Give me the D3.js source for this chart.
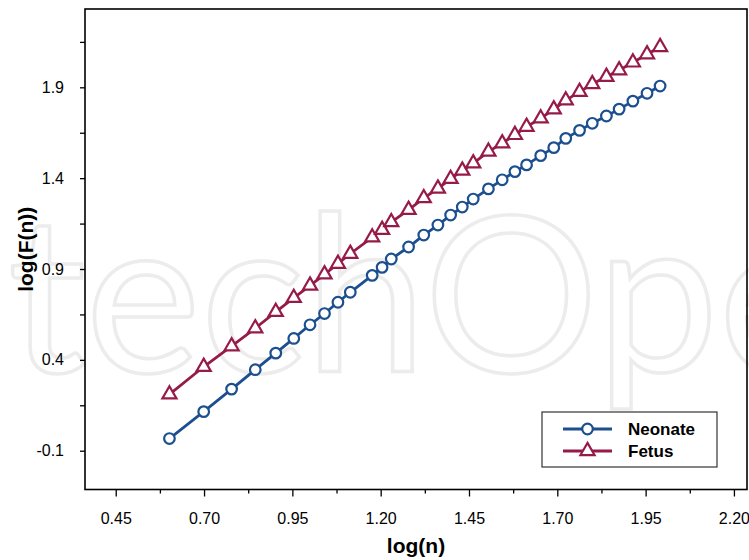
<!DOCTYPE html>
<html>
<head>
<meta charset="utf-8">
<script src="https://cdn.jsdelivr.net/npm/d3@7"></script>
<style>
  body { margin: 0; background: #fff; }
  svg { display: block; }
</style>
</head>
<body>
<div id="chart"></div>
<script>
"use strict";

// log(n) positions
const logN = [0.602, 0.699, 0.778, 0.845, 0.903, 0.954, 1.000, 1.041, 1.079, 1.114,
              1.176, 1.204, 1.230, 1.279, 1.322, 1.362, 1.398, 1.431, 1.462, 1.505,
              1.544, 1.580, 1.613, 1.653, 1.690, 1.724, 1.763, 1.799, 1.839, 1.875,
              1.914, 1.954, 1.991];

const neonate = [-0.033, 0.115, 0.239, 0.346, 0.437, 0.518, 0.593, 0.655, 0.717, 0.772,
                 0.865, 0.909, 0.955, 1.021, 1.087, 1.142, 1.197, 1.241, 1.285, 1.341,
                 1.391, 1.436, 1.473, 1.524, 1.568, 1.619, 1.663, 1.702, 1.742, 1.780,
                 1.824, 1.867, 1.907];

const fetus = [0.210, 0.362, 0.475, 0.574, 0.664, 0.741, 0.809, 0.871, 0.929, 0.984,
               1.074, 1.116, 1.158, 1.226, 1.290, 1.343, 1.396, 1.442, 1.482, 1.546,
               1.592, 1.638, 1.683, 1.729, 1.779, 1.828, 1.875, 1.918, 1.958, 1.994,
               2.037, 2.082, 2.122];

const xTicks = [0.45, 0.70, 0.95, 1.20, 1.45, 1.70, 1.95, 2.20];
const xMinor = [0.575, 0.825, 1.075, 1.325, 1.575, 1.825, 2.075];
const yTicks = [-0.1, 0.4, 0.9, 1.4, 1.9];
const yMinor = [0.15, 0.65, 1.15, 1.65, 2.15];

const colors = {Neonate: "#1c4f8f", Fetus: "#961b48"};

let font = "'Liberation Sans', Arial, sans-serif";

const width = 749, height = 560;
let margin = {top: 9, right: 2, bottom: 70.5, left: 85};

let x = d3.scaleLinear([0.363, 2.237], [margin.left, width - margin.right]);
let y = d3.scaleLinear([-0.3135, 2.331], [height - margin.bottom, margin.top]);

// plain hyphen for negatives, like the original
const locale = d3.formatLocale({decimal: ".", thousands: ",", grouping: [3], currency: ["", ""], minus: "-"});

const svg = d3.select("#chart")
    .append("svg")
    .attr("width", width)
    .attr("height", height)
    .style("font-family", font);

// faint publisher watermark behind everything
const wm = svg.append("text")
    .attr("x", 0)
    .attr("y", 372)
    .attr("font-family", "Lato, 'Open Sans', sans-serif")
    .attr("font-size", 218)
    .attr("fill", "none")
    .attr("stroke", "#ececec")
    .attr("stroke-width", 3.5)
    .text("IntechOpen");
const oStart = wm.node().getStartPositionOfChar(6).x;
wm.attr("x", 424 - oStart);

// x axis
const gx = svg.append("g")
    .attr("transform", `translate(0,${height - margin.bottom})`);
gx.call(d3.axisBottom(x)
        .tickValues(xTicks)
        .tickSize(7)
        .tickPadding(16)
        .tickFormat(locale.format(".2f")))
    .call(g => g.select(".domain").remove())
    .call(g => g.selectAll("text").attr("font-size", 16).attr("fill", "#000").attr("font-family", font));
gx.call(g => g.selectAll(".tick line").attr("stroke", "#000").attr("stroke-width", 1.3));
gx.append("g").call(d3.axisBottom(x).tickValues(xMinor).tickSize(4).tickFormat(""))
    .call(g => g.select(".domain").remove())
    .call(g => g.selectAll(".tick line").attr("stroke", "#000").attr("stroke-width", 1.3));

// y axis
const gy = svg.append("g")
    .attr("transform", `translate(${margin.left},0)`);
gy.call(d3.axisLeft(y)
        .tickValues(yTicks.concat(yMinor))
        .tickSize(5)
        .tickPadding(16)
        .tickFormat(d => yTicks.includes(d) ? locale.format(".1f")(d) : ""))
    .call(g => g.select(".domain").remove())
    .call(g => g.selectAll("text").attr("font-size", 16).attr("fill", "#000").attr("font-family", font))
    .call(g => g.selectAll(".tick line").attr("stroke", "#000").attr("stroke-width", 1.3));

// plot frame
svg.append("rect")
    .attr("x", margin.left)
    .attr("y", margin.top)
    .attr("width", width - margin.right - margin.left)
    .attr("height", height - margin.bottom - margin.top)
    .attr("fill", "none")
    .attr("stroke", "#000")
    .attr("stroke-width", 1.6);

// axis titles
svg.append("text")
    .attr("x", (margin.left + width - margin.right) / 2)
    .attr("y", 553)
    .attr("text-anchor", "middle")
    .attr("font-weight", "bold")
    .attr("font-size", 21)
    .text("log(n)");

svg.append("text")
    .attr("transform", `translate(33,${(margin.top + height - margin.bottom) / 2}) rotate(-90)`)
    .attr("text-anchor", "middle")
    .attr("font-weight", "bold")
    .attr("font-size", 21)
    .text("log(F(n))");

const series = [
    {name: "Neonate", values: neonate, symbol: d3.symbolCircle},
    {name: "Fetus", values: fetus, symbol: d3.symbolTriangle}
];

const line = d3.line()
    .x(d => x(d[0]))
    .y(d => y(d[1]));

function marker(g, s) {
    if (s.symbol === d3.symbolCircle) {
        g.append("circle").attr("r", 5.3);
    } else {
        g.append("path").attr("d", d3.symbol(d3.symbolTriangle, 86)());
    }
    g.selectAll("circle, path")
        .attr("fill", "#fff")
        .attr("stroke", colors[s.name])
        .attr("stroke-width", 2.2);
}

for (const s of series) {
    const pts = logN.map((v, i) => [v, s.values[i]]);
    svg.append("path")
        .datum(pts)
        .attr("fill", "none")
        .attr("stroke", colors[s.name])
        .attr("stroke-width", 2.8)
        .attr("d", line);
    svg.append("g")
        .selectAll("g")
        .data(pts)
        .join("g")
        .attr("transform", d => `translate(${x(d[0])},${y(d[1])})`)
        .each(function() { marker(d3.select(this), s); });
}

// legend
const lg = svg.append("g").attr("transform", "translate(542,412)");
lg.append("rect")
    .attr("width", 175)
    .attr("height", 55)
    .attr("fill", "#fff")
    .attr("stroke", "#333")
    .attr("stroke-width", 1.2);
series.forEach((s, i) => {
    const row = lg.append("g").attr("transform", `translate(0,${17 + i * 22})`);
    row.append("line")
        .attr("x1", 21).attr("x2", 70)
        .attr("stroke", colors[s.name])
        .attr("stroke-width", 2.8);
    marker(row.append("g").attr("transform", "translate(45.5,0)"), s);
    row.append("text")
        .attr("x", 86)
        .attr("dy", "0.36em")
        .attr("font-weight", "bold")
        .attr("font-size", 17)
        .text(s.name);
});
</script>
</body>
</html>
